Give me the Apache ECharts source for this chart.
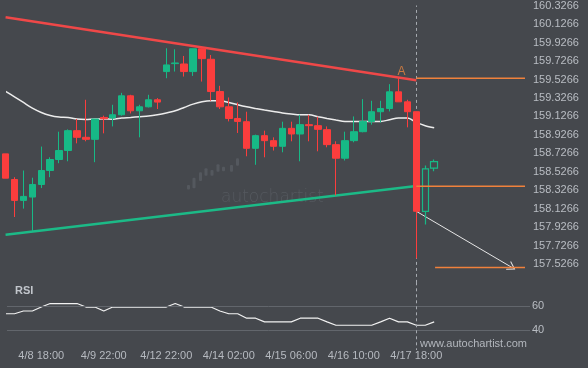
<!DOCTYPE html>
<html><head><meta charset="utf-8">
<script src="https://cdn.jsdelivr.net/npm/echarts@6/dist/echarts.min.js"></script>
<style>html,body{margin:0;padding:0;background:#45484d}#c{width:588px;height:368px}</style>
</head><body><div id="c"></div>
<script>
// ---- data ----
const xLabels = ['4/8 18:00','4/9 22:00','4/12 22:00','4/14 02:00','4/15 06:00','4/16 10:00','4/17 18:00'];
const xLabelIdx = [4, 11, 18, 25, 32, 39, 46];
const yTickLabels = ['157.5266','157.7266','157.9266','158.1266','158.3266','158.5266','158.7266','158.9266','159.1266','159.3266','159.5266','159.7266','159.9266','160.1266','160.3266'];
const rsiTickLabels = [60, 40];

const opens = [158.722,158.445,158.219,158.255,158.391,158.542,158.661,158.758,158.973,158.901,158.879,159.116,159.110,159.145,159.350,159.188,159.231,159.307,159.612,159.698,159.694,159.612,159.859,159.745,159.396,159.231,159.105,159.070,158.782,158.919,158.865,158.804,158.998,158.937,159.038,159.027,158.984,158.822,158.675,158.865,158.962,159.073,159.178,159.213,159.393,159.285,159.178,158.101,158.567];
const closes = [158.459,158.219,158.262,158.391,158.542,158.661,158.758,158.973,158.901,158.879,159.099,159.102,159.145,159.350,159.188,159.231,159.307,159.282,159.684,159.705,159.612,159.859,159.752,159.396,159.231,159.105,159.073,158.782,158.919,158.865,158.804,158.998,158.937,159.038,159.027,158.987,158.822,158.675,158.865,158.962,159.073,159.178,159.213,159.393,159.285,159.178,158.101,158.560,158.639];
const lows = [158.459,158.039,158.130,157.889,158.352,158.470,158.621,158.642,158.836,158.858,158.632,158.944,159.019,159.135,159.159,158.901,159.224,159.207,159.540,159.612,159.558,159.565,159.504,159.296,159.207,159.073,158.948,158.696,158.604,158.685,158.758,158.739,158.858,158.642,158.858,158.750,158.793,158.273,158.650,158.847,158.955,159.038,159.062,159.181,159.285,159.009,157.591,157.957,158.535];
const highs = [158.722,158.470,158.542,158.464,158.801,158.685,158.962,158.987,159.099,159.307,159.099,159.135,159.253,159.382,159.361,159.253,159.361,159.325,159.864,159.853,159.781,159.859,159.870,159.791,159.458,159.332,159.278,159.178,158.930,158.973,158.901,159.070,159.070,159.145,159.145,159.124,159.019,158.858,158.962,159.127,159.314,159.296,159.296,159.476,159.540,159.307,159.178,158.596,158.661];
const hollowCandles = [47, 48];

const maValues = [159.398,159.339,159.278,159.217,159.170,159.138,159.121,159.116,159.099,159.095,159.099,159.099,159.097,159.110,159.116,159.124,159.131,159.145,159.164,159.188,159.224,159.260,159.285,159.296,159.296,159.278,159.253,159.231,159.213,159.196,159.181,159.164,159.153,159.145,159.145,159.124,159.105,159.088,159.073,159.073,159.073,159.073,159.073,159.091,159.110,159.110,159.062,159.027,159.005];

const rsiValues = [53.8,53.8,56.1,56.1,59.4,62.3,62.3,62.3,62.3,59.4,59.4,56.1,59.4,59.4,59.4,59.4,59.4,59.4,59.4,62.3,59.4,59.4,59.4,59.4,56.1,53.8,53.8,50.1,50.1,47.0,47.0,47.0,47.0,50.1,50.1,50.1,47.0,44.2,44.2,44.2,44.2,44.2,47.0,50.1,47.0,47.0,44.2,44.2,47.0];

const resistanceLine = [[0, 160.200], [46, 159.519]];
const supportLine = [[0, 157.848], [46, 158.374]];
const breakoutIdx = 46;
const pointA = [44, 159.540];
const levelA = 159.540;
const levelBreak = 158.372;
const targetLevel = 157.494;
const levelEndIdx = 58.17;
const targetStartIdx = 48.1;
const arrowStart = [46, 158.101];
const arrowEnd = [56.7, 157.494];

// ---- chart ----
const RED = '#fb3d3d', GREEN = '#17b986', ORANGE = '#f0813c';
const FONT = 'Liberation Sans, Arial, sans-serif';
const chart = echarts.init(document.getElementById('c'), null, {renderer: 'canvas'});

const candleData = opens.map((o, k) => {
  const item = {value: [k, o, closes[k], lows[k], highs[k]]};
  if (hollowCandles.includes(k)) item.itemStyle = {color: 'rgba(0,0,0,0)', borderColor: GREEN, borderWidth: 1.2};
  return item;
});

const xCommon = {type: 'value', min: 0.16, max: 58.73, splitLine: {show: false}, axisLine: {show: false}, axisTick: {show: false}};

chart.setOption({
  backgroundColor: '#45484d',
  animation: false,
  grid: [
    {left: 7, right: 58, top: 4.3, height: 278.6},
    {left: 7, right: 58, top: 282.3, height: 67.7}
  ],
  xAxis: [
    Object.assign({}, xCommon, {gridIndex: 0, axisLabel: {show: false}}),
    Object.assign({}, xCommon, {gridIndex: 1, axisLabel: {
      customValues: xLabelIdx, margin: 0, color: '#b6bac0', fontSize: 11, fontFamily: FONT,
      formatter: v => xLabels[xLabelIdx.indexOf(v)] || ''
    }})
  ],
  yAxis: [
    {gridIndex: 0, type: 'value', position: 'right', min: 157.3266, max: 160.3266, scale: true,
      splitLine: {show: false}, axisLine: {show: false}, axisTick: {show: false},
      axisLabel: {customValues: yTickLabels.map(Number), formatter: v => v.toFixed(4), margin: 3, color: '#b9bdc3', fontSize: 11, fontFamily: FONT}},
    {gridIndex: 1, type: 'value', position: 'right', min: 23.6, max: 80,
      splitLine: {show: false}, axisLine: {show: false}, axisTick: {show: false},
      axisLabel: {customValues: rsiTickLabels, margin: 2, color: '#b9bdc3', fontSize: 11, fontFamily: FONT}}
  ],
  series: [
    {type: 'line', xAxisIndex: 0, yAxisIndex: 0, data: resistanceLine, showSymbol: false, lineStyle: {color: '#ef4848', width: 2.5}, z: 3},
    {type: 'line', xAxisIndex: 0, yAxisIndex: 0, data: supportLine, showSymbol: false, lineStyle: {color: '#1cba87', width: 2.5}, z: 3},
    {type: 'line', xAxisIndex: 0, yAxisIndex: 0, data: maValues.map((v, k) => [k, v]), showSymbol: false, smooth: 0.3,
      lineStyle: {color: '#ececec', width: 1.5}, z: 4},
    {type: 'candlestick', xAxisIndex: 0, yAxisIndex: 0, data: candleData, barWidth: 7, clip: true, z: 5,
      itemStyle: {color: GREEN, color0: RED, borderColor: GREEN, borderColor0: RED, borderWidth: 1},
      markLine: {silent: true, symbol: ['none', 'none'], label: {show: false},
        lineStyle: {color: '#a6aab0', type: [3, 3], width: 1},
        data: [{xAxis: breakoutIdx}]}
    },
    {type: 'line', xAxisIndex: 0, yAxisIndex: 0, data: [[breakoutIdx, levelA], [levelEndIdx, levelA]], showSymbol: false, lineStyle: {color: ORANGE, width: 1.5}, z: 6},
    {type: 'line', xAxisIndex: 0, yAxisIndex: 0, data: [[breakoutIdx, levelBreak], [levelEndIdx, levelBreak]], showSymbol: false, lineStyle: {color: ORANGE, width: 1.5}, z: 6},
    {type: 'line', xAxisIndex: 0, yAxisIndex: 0, data: [[targetStartIdx, targetLevel], [levelEndIdx, targetLevel]], showSymbol: false, lineStyle: {color: ORANGE, width: 1.5}, z: 6,
      markLine: {silent: true, symbol: ['none', 'path://M5,0 L10,9 L8.8,9 L5,2.2 L1.2,9 L0,9 Z'], symbolSize: [10, 8], label: {show: false},
        lineStyle: {color: '#e6e6e6', type: 'solid', width: 1},
        data: [[{coord: arrowStart}, {coord: arrowEnd}]]}
    },
    {type: 'scatter', xAxisIndex: 0, yAxisIndex: 0, data: [pointA], symbolSize: 1, itemStyle: {color: 'rgba(0,0,0,0)'}, z: 7,
      label: {show: true, position: 'top', distance: 0, offset: [3, 0], formatter: 'A', color: '#e8843f', fontSize: 12, fontFamily: FONT}},
    {type: 'line', xAxisIndex: 1, yAxisIndex: 1, data: rsiValues.map((v, k) => [k, v]), showSymbol: false,
      lineStyle: {color: '#f2f2f2', width: 1.2}, z: 4,
      markLine: {silent: true, symbol: ['none', 'none'], label: {show: false},
        lineStyle: {color: '#62666c', type: 'solid', width: 1},
        data: rsiTickLabels.map(v => ({yAxis: v})).concat([[{coord: [breakoutIdx, 80]}, {coord: [breakoutIdx, 23.6], lineStyle: {color: '#a6aab0', type: [3, 3]}}]])}
    }
  ],
  graphic: [
    {type: 'group', silent: true, z: 1, children: [
      {type: 'rect', shape: {x: 187, y: 185, width: 3, height: 4.5, r: 1}, style: {fill: '#54585e'}},
      {type: 'rect', shape: {x: 192.5, y: 177.7, width: 3, height: 10.6, r: 1}, style: {fill: '#54585e'}},
      {type: 'rect', shape: {x: 199, y: 172.3, width: 3, height: 8.7, r: 1}, style: {fill: '#54585e'}},
      {type: 'rect', shape: {x: 204.5, y: 168.3, width: 3, height: 7.4, r: 1}, style: {fill: '#54585e'}},
      {type: 'rect', shape: {x: 210.5, y: 170, width: 3, height: 5.7, r: 1}, style: {fill: '#54585e'}},
      {type: 'rect', shape: {x: 216.5, y: 164.3, width: 3, height: 7.4, r: 1}, style: {fill: '#54585e'}},
      {type: 'rect', shape: {x: 222, y: 166.7, width: 3, height: 4.5, r: 1}, style: {fill: '#54585e'}},
      {type: 'rect', shape: {x: 230, y: 165, width: 3, height: 6.7, r: 1}, style: {fill: '#54585e'}},
      {type: 'rect', shape: {x: 236, y: 158.3, width: 3, height: 7.4, r: 1}, style: {fill: '#54585e'}},
      {type: 'text', x: 221, y: 189.5, style: {text: 'autochartist', fill: '#55595f', font: '200 17px "DejaVu Sans", sans-serif', textVerticalAlign: 'alphabetic', verticalAlign: 'alphabetic'}}
    ]},
    {type: 'text', left: 15, top: 285, silent: true, style: {text: 'RSI', fill: '#c2c6cc', font: 'bold 11px ' + FONT}},
    {type: 'text', left: 420, top: 338, silent: true, style: {text: 'www.autochartist.com', fill: '#b3b7bd', font: '11px ' + FONT}}
  ]
});
</script></body></html>
